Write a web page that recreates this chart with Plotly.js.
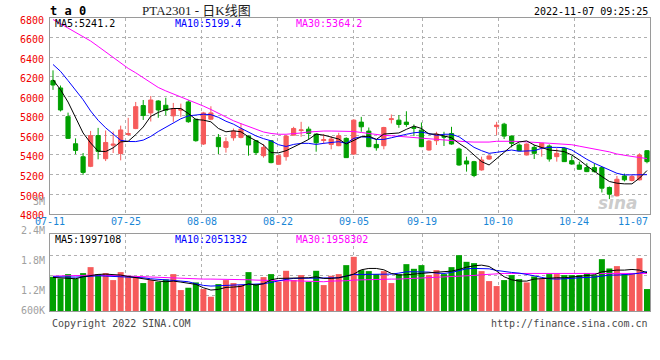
<!DOCTYPE html>
<html><head><meta charset="utf-8">
<script src="https://cdn.plot.ly/plotly-3.0.1.min.js"></script>
<style>html,body{margin:0;padding:0;background:#fff}#chart{width:660px;height:360px}</style>
</head><body><div id="chart"></div>
<script>
const dates = ['07-11','07-12','07-13','07-14','07-15','07-18','07-19','07-20','07-21','07-22','07-25','07-26','07-27','07-28','07-29',
'08-01','08-02','08-03','08-04','08-05','08-08','08-09','08-10','08-11','08-12','08-15','08-16','08-17','08-18','08-19','08-22','08-23','08-24','08-25','08-26','08-29','08-30','08-31',
'09-01','09-02','09-05','09-06','09-07','09-08','09-09','09-13','09-14','09-15','09-16','09-19','09-20','09-21','09-22','09-23','09-26','09-27','09-28','09-29','09-30',
'10-10','10-11','10-12','10-13','10-14','10-17','10-18','10-19','10-20','10-21','10-24','10-25','10-26','10-27','10-28','10-31',
'11-01','11-02','11-03','11-04','11-07'];
const tickLabels = ['07-11','07-25','08-08','08-22','09-05','09-19','10-10','10-24','11-07'];

const open = [6160,6085,5792,5515,5382,5284,5598,5362,5500,5415,5610,5670,5905,5830,5952,5908,5800,5858,5942,5766,
5512,5766,5580,5478,5576,5580,5593,5546,5393,5546,5305,5383,5603,5650,5664,5614,5548,5508,5495,5570,
5410,5736,5644,5508,5495,5762,5756,5736,5681,5654,5451,5546,5590,5620,5461,5339,5332,5247,5359,5690,
5715,5593,5502,5400,5478,5475,5492,5383,5468,5342,5298,5271,5271,5271,5068,4983,5186,5139,5146,5444];
const high = [6265,6110,5833,5570,5420,5646,5677,5650,5640,5700,5780,5942,5962,6003,5960,5985,5932,5925,5959,5770,
5841,5898,5614,5580,5671,5722,5600,5553,5512,5553,5400,5604,5688,5739,5690,5616,5614,5593,5627,5580,
5766,5790,5681,5553,5688,5814,5807,5847,5712,5732,5553,5637,5637,5688,5475,5383,5340,5383,5400,5739,
5729,5600,5519,5519,5502,5525,5508,5468,5478,5390,5332,5315,5315,5280,5078,5186,5210,5196,5417,5451];
const low = [6065,5845,5565,5408,5198,5276,5356,5338,5420,5345,5595,5664,5758,5742,5780,5805,5739,5790,5729,5536,
5502,5756,5410,5424,5546,5570,5393,5400,5373,5315,5300,5342,5600,5586,5560,5434,5512,5458,5490,5370,
5400,5637,5480,5444,5458,5722,5678,5688,5593,5480,5444,5502,5492,5505,5290,5230,5173,5240,5350,5604,
5563,5478,5440,5395,5359,5383,5332,5332,5330,5300,5250,5225,5220,5017,4949,4976,5130,5130,5140,5315];
const close = [6115,5860,5570,5447,5222,5598,5437,5528,5510,5656,5618,5894,5803,5962,5860,5858,5875,5866,5740,5546,
5830,5830,5485,5536,5644,5664,5502,5424,5478,5322,5393,5593,5671,5656,5620,5525,5556,5563,5597,5373,
5756,5688,5485,5474,5681,5770,5712,5712,5674,5485,5542,5614,5583,5512,5298,5308,5190,5349,5390,5705,
5593,5519,5444,5512,5417,5519,5359,5417,5332,5308,5254,5230,5230,5061,5000,5152,5146,5180,5400,5332];

const ma5 = [6169,6067,5941,5778,5625,5523,5439,5435,5473,5534,5540,5608,5686,5795,5835,5864,5875,5875,5824,5763,
5756,5739,5671,5637,5647,5637,5586,5546,5502,5424,5422,5444,5478,5519,5559,5614,5603,5580,5563,5512,
5553,5586,5593,5559,5614,5620,5625,5662,5695,5671,5614,5614,5593,5576,5519,5468,5400,5332,5298,5366,
5434,5492,5533,5544,5502,5478,5451,5444,5434,5400,5349,5288,5230,5180,5129,5112,5105,5105,5163,5241];
const ma10 = [6325,6255,6160,6065,5965,5850,5755,5678,5610,5550,5538,5537,5552,5590,5640,5685,5730,5770,5800,5812,
5817,5812,5785,5745,5715,5673,5632,5595,5567,5545,5505,5487,5508,5519,5519,5508,5519,5529,5536,5519,
5570,5586,5580,5559,5559,5576,5598,5612,5627,5634,5620,5600,5612,5612,5586,5536,5478,5444,5417,5427,
5441,5451,5438,5438,5444,5468,5478,5478,5475,5451,5400,5356,5315,5281,5247,5213,5196,5195,5193,5199];
const ma30 = [6785,6740,6695,6650,6610,6565,6510,6455,6395,6340,6285,6240,6190,6140,6090,6055,6025,5990,5960,5930,
5900,5865,5825,5790,5750,5720,5690,5660,5635,5620,5612,5612,5615,5625,5635,5643,5645,5645,5645,5643,
5640,5630,5618,5605,5600,5597,5592,5588,5580,5572,5566,5560,5552,5546,5540,5535,5532,5532,5532,5540,
5542,5540,5538,5536,5530,5525,5520,5516,5512,5505,5490,5475,5462,5450,5432,5410,5395,5385,5374,5364];

const volume = [1785000,1698000,1924000,1698000,1976000,2288000,1924000,1976000,1612000,2028000,
1785000,1750000,1456000,1612000,1525000,1646000,1924000,1092000,1213000,1490000,
1144000,745000,1404000,1612000,1456000,1352000,2028000,1404000,1768000,1924000,
1525000,2097000,1612000,1872000,1525000,2097000,1352000,1837000,1924000,2392000,
2825000,2132000,2080000,1924000,2080000,1456000,1924000,2444000,2201000,2392000,
1872000,2132000,1924000,2288000,2912000,2565000,2496000,2080000,1560000,1300000,
1612000,1872000,1664000,1490000,1802000,1664000,1924000,1924000,1872000,1872000,
1872000,1976000,1872000,2704000,2218000,2340000,1924000,1924000,2756000,1144000];
const vma5 = [1751000,1733000,1733000,1681000,1785000,1855000,1907000,1924000,1907000,1872000,
1803000,1733000,1699000,1629000,1560000,1525000,1560000,1508000,1456000,1387000,
1213000,1092000,1127000,1231000,1248000,1283000,1421000,1352000,1421000,1629000,
1699000,1699000,1733000,1733000,1733000,1785000,1699000,1699000,1733000,1820000,
1924000,2149000,2219000,2219000,2149000,1959000,1872000,1889000,1941000,1959000,
1993000,2011000,2028000,2080000,2167000,2288000,2357000,2392000,2323000,2080000,
1785000,1629000,1560000,1560000,1664000,1699000,1716000,1733000,1733000,1768000,
1785000,1837000,1889000,2045000,2097000,2132000,2132000,2167000,2132000,1997108];
const vma10 = [1785000,1768000,1751000,1768000,1785000,1820000,1837000,1820000,1803000,1785000,
1785000,1785000,1733000,1681000,1664000,1629000,1595000,1560000,1525000,1421000,
1335000,1300000,1317000,1317000,1317000,1352000,1387000,1404000,1421000,1491000,
1577000,1647000,1699000,1699000,1716000,1733000,1733000,1699000,1733000,1820000,
1907000,1907000,1907000,1907000,1907000,1924000,1976000,2045000,2045000,2045000,
2028000,1976000,1959000,2011000,2115000,2201000,2219000,2219000,2201000,2115000,
2045000,2011000,1976000,1924000,1837000,1751000,1681000,1664000,1664000,1699000,
1733000,1733000,1768000,1820000,1872000,1872000,1889000,1924000,1976000,2051332];
const vma30 = [1820000,1820000,1837000,1837000,1855000,1872000,1872000,1872000,1855000,1837000,
1820000,1803000,1785000,1768000,1751000,1733000,1699000,1681000,1664000,1664000,
1664000,1664000,1664000,1647000,1647000,1647000,1629000,1612000,1595000,1595000,
1595000,1577000,1577000,1560000,1543000,1525000,1525000,1560000,1560000,1577000,
1612000,1629000,1647000,1664000,1664000,1664000,1664000,1681000,1716000,1733000,
1751000,1768000,1785000,1785000,1803000,1820000,1855000,1889000,1924000,1941000,
1959000,1959000,1959000,1941000,1941000,1941000,1941000,1941000,1941000,1941000,
1941000,1941000,1941000,1959000,1959000,1959000,1959000,1959000,1976000,1958302];

const priceTicks = [4800,5000,5200,5400,5600,5800,6000,6200,6400,6600,6800];
const volTicks = [800000,1860000,2880000];
const volLabels = ['3M','2.4M','1.8M','1.2M','600K'];
const legendPrice = ['MA5:5241.2','MA10:5199.4','MA30:5364.2'];
const legendVol = ['MA5:1997108','MA10:2051332','MA30:1958302'];

const idx = dates.map((d,i)=>i);
const n = dates.length;
const RED = '#f65b5b', GREEN = '#00a000';
const gridX = tickLabels.map(t => dates.indexOf(t) * ((n - 0.2) / (n - 1)) - 0.4);
const mono = 'DejaVu Sans Mono, monospace';
const gridCol = '#b0b0b0', lineCol = '#9a9a9a';

const traces = [
  {type:'candlestick', x:idx, open:open, high:high, low:low, close:close, xaxis:'x', yaxis:'y',
   increasing:{line:{color:RED,width:1}, fillcolor:RED}, decreasing:{line:{color:GREEN,width:1}, fillcolor:GREEN},
   whiskerwidth:0, hoverinfo:'none'},
  {type:'scatter', mode:'lines', x:idx, y:ma30, line:{color:'#ff00ff',width:1}, xaxis:'x', yaxis:'y', hoverinfo:'none'},
  {type:'scatter', mode:'lines', x:idx, y:ma10, line:{color:'#0000ff',width:1}, xaxis:'x', yaxis:'y', hoverinfo:'none'},
  {type:'scatter', mode:'lines', x:idx, y:ma5, line:{color:'#000000',width:1}, xaxis:'x', yaxis:'y', hoverinfo:'none'},
  {type:'bar', x:idx, y:volume, width:0.8, marker:{color: close.map((c,i)=> c>=open[i]?RED:GREEN), line:{width:0}},
   xaxis:'x2', yaxis:'y2', hoverinfo:'none'},
  {type:'scatter', mode:'lines', x:idx, y:vma30, line:{color:'#ff00ff',width:1}, xaxis:'x2', yaxis:'y2', hoverinfo:'none'},
  {type:'scatter', mode:'lines', x:idx, y:vma10, line:{color:'#0000ff',width:1}, xaxis:'x2', yaxis:'y2', hoverinfo:'none'},
  {type:'scatter', mode:'lines', x:idx, y:vma5, line:{color:'#000000',width:1}, xaxis:'x2', yaxis:'y2', hoverinfo:'none'}
];

const T = 18, B = 311, H = B - T;
const py = v => (B - v) / H;       // pixel row -> paper y
const px = v => (v - 50) / 600;    // pixel col -> paper x

const annotations = [];
function ann(text, x, y, color, xanchor, size, extra) {
  annotations.push(Object.assign({text:text, x:x, y:y, xref:'paper', yref:'paper', xanchor:xanchor, yanchor:'middle',
    showarrow:false, font:{family:mono, size:size||10, color:color}}, extra||{}));
}
ann('t a 0', px(48), py(11), '#000', 'left', 12, {font:{family:mono,size:12,color:'#000',weight:'bold'}});
ann('PTA2301 - 日K线图', px(140), py(10), '#222', 'left', 13, {font:{family:'Liberation Serif, Noto Sans CJK SC, serif',size:13,color:'#222'}});
ann('2022-11-07 09:25:25', px(650), py(12), '#000', 'right', 10);
const legColors = ['#000000','#0000ff','#ff00ff'];
const legX = [53, 173, 294];
legendPrice.forEach((t,i)=>ann(t, px(legX[i]), py(23.5), legColors[i], 'left', 10));
legendVol.forEach((t,i)=>ann(t, px(legX[i]), py(239.5), legColors[i], 'left', 10));
const volLabelY = [201, 230, 260, 290.5, 310];
volLabels.forEach((t,i)=>ann(t, px(47), py(volLabelY[i]), '#a0a0a0', 'right', 10));
tickLabels.forEach((t,i)=>annotations.push({text:t, x:gridX[i], xref:'x', y:py(221.5), yref:'paper',
  xanchor: i===tickLabels.length-1 ? 'right' : 'center', yanchor:'middle', showarrow:false,
  font:{family:mono, size:10, color:'#1a86d6'}}));
ann('Copyright 2022 SINA.COM', px(50), py(323.5), '#4a4a4a', 'left', 10);
ann('http://finance.sina.com.cn', px(650), py(323.5), '#4a4a4a', 'right', 10);
annotations.push({text:'<i><b>sina</b></i>', x:px(618), y:py(203), xref:'paper', yref:'paper', xanchor:'center', yanchor:'middle',
  showarrow:false, font:{family:'DejaVu Sans, sans-serif', size:17, color:'rgba(160,160,160,0.55)'}});

const xCommon = {range:[-0.4, n-0.6], tickmode:'array', tickvals:gridX, showticklabels:false, ticks:'',
  showgrid:true, gridcolor:gridCol, griddash:'dot', gridwidth:1, zeroline:false,
  showline:true, mirror:true, linecolor:lineCol, linewidth:1, fixedrange:true};

const layout = {
  width:660, height:360, margin:{l:50, r:10, t:T, b:360-B}, paper_bgcolor:'#fff', plot_bgcolor:'#fff',
  showlegend:false, boxgap:0.2, bargap:0.2, hovermode:false,
  xaxis: Object.assign({}, xCommon, {anchor:'y', rangeslider:{visible:false}}),
  xaxis2: Object.assign({}, xCommon, {anchor:'y2', matches:'x'}),
  yaxis: {domain:[(B-213.7)/H, 1], range:[4800,6800], tickmode:'array', tickvals:priceTicks, ticktext:priceTicks.map(String),
    tickfont:{family:mono, size:10, color:'#f00000'}, ticks:'', ticklabelstandoff:3, ticklabelshift:2,
    showgrid:true, gridcolor:gridCol, griddash:'dot', zeroline:false,
    showline:true, mirror:true, linecolor:lineCol, linewidth:1, fixedrange:true},
  yaxis2: {domain:[0, (B-234.3)/H], range:[0, 4000000], tickmode:'array', tickvals:volTicks, showticklabels:false, ticks:'',
    showgrid:true, gridcolor:gridCol, griddash:'dot', zeroline:false,
    showline:true, mirror:true, linecolor:lineCol, linewidth:1, fixedrange:true},
  annotations: annotations
};
Plotly.newPlot('chart', traces, layout, {staticPlot:true, displayModeBar:false});
</script></body></html>
